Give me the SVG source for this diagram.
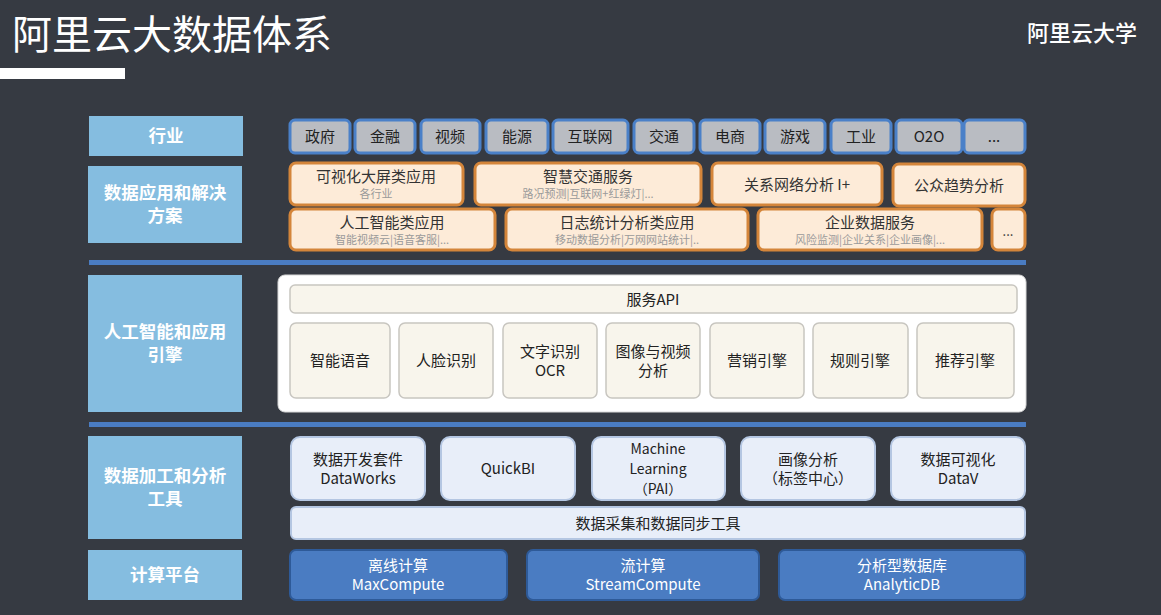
<svg xmlns="http://www.w3.org/2000/svg" width="1161" height="615" viewBox="0 0 1161 615">
<style>
text{font-family:"Noto Sans CJK SC","Noto Sans",sans-serif;text-anchor:middle;}
.lab rect{fill:#85bde0;}
.lab text{fill:#ffffff;font-weight:bold;font-size:17.5px;}
.ind rect{fill:#b9bcc2;stroke:#4a80c8;stroke-width:3;}
.ind text{fill:#222;font-size:15px;}
.app rect{fill:#fdebd8;stroke:#d4853a;stroke-width:3;}
.app .t{fill:#333;font-size:15px;}
.app .s{fill:#9a9a9a;font-size:11px;}
.eng rect{fill:#f8f5ec;stroke:#c8c6c0;stroke-width:1.5;}
.eng text{fill:#222;font-size:15px;}
.tool rect{fill:#e8eef9;stroke:#b4c6e2;stroke-width:2;}
.tool text{fill:#222;font-size:15px;}
.cmp rect{fill:#4a7cc2;stroke:#2e5a98;stroke-width:2;}
.cmp text{fill:#ffffff;font-size:15px;}
</style>
<rect width="1161" height="615" fill="#363a42"/>
<text x="12" y="49" style="font-size:40px;fill:#ffffff;text-anchor:start">阿里云大数据体系</text>
<rect x="0" y="68" width="125" height="11" fill="#ffffff"/>
<text x="1082" y="41" style="font-size:22px;fill:#ffffff;font-weight:500">阿里云大学</text>
<rect x="89" y="260" width="937" height="5" fill="#4a7cc2"/>
<rect x="89" y="422" width="937" height="5" fill="#4a7cc2"/>
<g class="lab">
<g id="lab-industry"><rect x="89" y="116" width="154" height="40"/><text x="166" y="142">行业</text></g>
<g id="lab-app"><rect x="88" y="166" width="154" height="77"/><text x="165" y="199">数据应用和解决</text><text x="165" y="222">方案</text></g>
<g id="lab-ai"><rect x="88" y="275" width="154" height="137"/><text x="165" y="338">人工智能和应用</text><text x="165" y="361">引擎</text></g>
<g id="lab-tool"><rect x="88" y="436" width="154" height="103"/><text x="165" y="482">数据加工和分析</text><text x="165" y="505">工具</text></g>
<g id="lab-cmp"><rect x="88" y="550" width="154" height="50"/><text x="165" y="581">计算平台</text></g>
</g>
<g class="ind">
<g id="i1"><rect x="290" y="120" width="60" height="33" rx="5"/><text x="320" y="142">政府</text></g>
<g id="i2"><rect x="355" y="120" width="60" height="33" rx="5"/><text x="385" y="142">金融</text></g>
<g id="i3"><rect x="421" y="120" width="59" height="33" rx="5"/><text x="450" y="142">视频</text></g>
<g id="i4"><rect x="486" y="120" width="62" height="33" rx="5"/><text x="517" y="142">能源</text></g>
<g id="i5"><rect x="553" y="120" width="75" height="33" rx="5"/><text x="590" y="142">互联网</text></g>
<g id="i6"><rect x="634" y="120" width="60" height="33" rx="5"/><text x="664" y="142">交通</text></g>
<g id="i7"><rect x="700" y="120" width="60" height="33" rx="5"/><text x="730" y="142">电商</text></g>
<g id="i8"><rect x="765" y="120" width="60" height="33" rx="5"/><text x="795" y="142">游戏</text></g>
<g id="i9"><rect x="831" y="120" width="60" height="33" rx="5"/><text x="861" y="142">工业</text></g>
<g id="i10"><rect x="896" y="120" width="66" height="33" rx="5"/><text x="929" y="142">O2O</text></g>
<g id="i11"><rect x="964" y="120" width="61" height="33" rx="5"/><text x="994" y="142">...</text></g>
</g>
<g class="app">
<g id="a1"><rect x="290" y="163" width="173" height="42" rx="6"/><text class="t" x="376" y="182">可视化大屏类应用</text><text class="s" x="376" y="198">各行业</text></g>
<g id="a2"><rect x="475" y="163" width="226" height="42" rx="6"/><text class="t" x="588" y="182">智慧交通服务</text><text class="s" x="588" y="198">路况预测|互联网+红绿灯|...</text></g>
<g id="a3"><rect x="712" y="163" width="170" height="42" rx="6"/><text class="t" x="797" y="190">关系网络分析 I+</text></g>
<g id="a4"><rect x="893" y="164" width="132" height="42" rx="6"/><text class="t" x="959" y="191">公众趋势分析</text></g>
<g id="a5"><rect x="290" y="209" width="205" height="41" rx="6"/><text class="t" x="392" y="228">人工智能类应用</text><text class="s" x="392" y="244">智能视频云|语音客服|...</text></g>
<g id="a6"><rect x="506" y="209" width="242" height="41" rx="6"/><text class="t" x="627" y="228">日志统计分析类应用</text><text class="s" x="627" y="244">移动数据分析|万网网站统计|..</text></g>
<g id="a7"><rect x="758" y="209" width="224" height="41" rx="6"/><text class="t" x="870" y="228">企业数据服务</text><text class="s" x="870" y="244">风险监测|企业关系|企业画像|...</text></g>
<g id="a8"><rect x="992" y="209" width="33" height="41" rx="6"/><text class="t" x="1008" y="236" style="font-size:13px">...</text></g>
</g>
<g id="ai-panel">
<rect x="278" y="275" width="748" height="137" rx="7" fill="#ffffff" stroke="#d8d8d8" stroke-width="1"/>
</g>
<g class="eng">
<g id="api"><rect x="290" y="285" width="727" height="28" rx="5"/><text x="653" y="305">服务API</text></g>
<g id="e1"><rect x="290" y="323" width="100" height="75" rx="6"/><text x="340" y="366">智能语音</text></g>
<g id="e2"><rect x="399" y="323" width="94" height="75" rx="6"/><text x="446" y="366">人脸识别</text></g>
<g id="e3"><rect x="503" y="323" width="94" height="75" rx="6"/><text x="550" y="357">文字识别</text><text x="550" y="376">OCR</text></g>
<g id="e4"><rect x="606" y="323" width="94" height="75" rx="6"/><text x="653" y="357">图像与视频</text><text x="653" y="376">分析</text></g>
<g id="e5"><rect x="710" y="323" width="94" height="75" rx="6"/><text x="757" y="366">营销引擎</text></g>
<g id="e6"><rect x="813" y="323" width="95" height="75" rx="6"/><text x="860" y="366">规则引擎</text></g>
<g id="e7"><rect x="917" y="323" width="97" height="75" rx="6"/><text x="965" y="366">推荐引擎</text></g>
</g>
<g class="tool">
<g id="t1"><rect x="291" y="437" width="134" height="63" rx="9"/><text x="358" y="465">数据开发套件</text><text x="358" y="484">DataWorks</text></g>
<g id="t2"><rect x="441" y="437" width="134" height="63" rx="9"/><text x="508" y="474">QuickBI</text></g>
<g id="t3"><rect x="592" y="437" width="133" height="63" rx="9"/><text x="658" y="454" style="font-size:14px">Machine</text><text x="658" y="474" style="font-size:14px">Learning</text><text x="658" y="494" style="font-size:14px">（PAI）</text></g>
<g id="t4"><rect x="741" y="437" width="134" height="63" rx="9"/><text x="808" y="465">画像分析</text><text x="808" y="484">（标签中心）</text></g>
<g id="t5"><rect x="891" y="437" width="134" height="63" rx="9"/><text x="958" y="465">数据可视化</text><text x="958" y="484">DataV</text></g>
<g id="t6"><rect x="291" y="507" width="734" height="32" rx="5"/><text x="658" y="529">数据采集和数据同步工具</text></g>
</g>
<g class="cmp">
<g id="c1"><rect x="290" y="550" width="217" height="50" rx="6"/><text x="398" y="571">离线计算</text><text x="398" y="590">MaxCompute</text></g>
<g id="c2"><rect x="527" y="550" width="232" height="50" rx="6"/><text x="643" y="571">流计算</text><text x="643" y="590">StreamCompute</text></g>
<g id="c3"><rect x="779" y="550" width="246" height="50" rx="6"/><text x="902" y="571">分析型数据库</text><text x="902" y="590">AnalyticDB</text></g>
</g>
<g id="connectors"></g>
</svg>
